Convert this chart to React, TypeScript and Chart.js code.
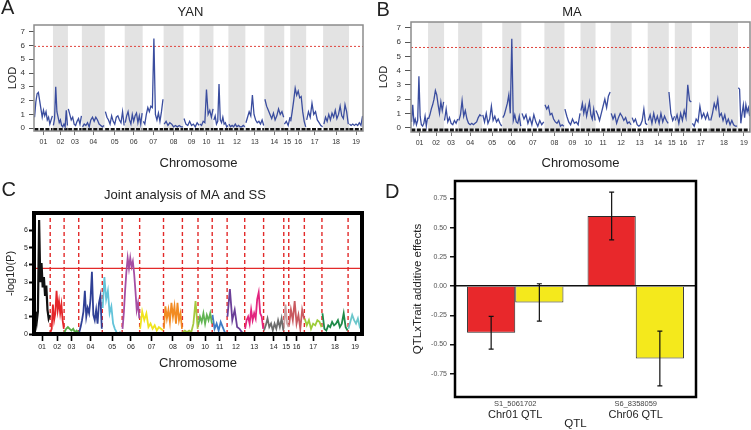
import React, { useEffect, useRef } from "react";
import { Chart, registerables } from "chart.js";

Chart.register(...registerables);

const FONT = "'Liberation Sans', Arial, Helvetica, sans-serif";

// ---------------- data ----------------
const chromLabels = ["01", "02", "03", "04", "05", "06", "07", "08", "09", "10", "11", "12", "13", "14", "15", "16", "17", "18", "19"];

// map lengths used on each panel's genome axis
const yanLengths = [19, 15, 14, 23, 20, 18, 21, 20, 16, 14, 15, 17, 19, 20, 6, 16, 17, 26, 14];
const maLengths = [17, 16, 14, 24, 20, 19, 23, 20, 16, 15, 15, 21, 16, 21, 6, 17, 18, 28, 12];
const jointLengths = [16.3, 14, 14.7, 23.7, 20, 17.6, 24, 19, 15.7, 14.3, 15, 17.7, 19, 20.3, 5, 15.7, 17.7, 26.3, 14];

const lodTicks = [0, 1, 2, 3, 4, 5, 6, 7];
const jointTicks = [0, 1, 2, 3, 4, 5, 6];
const effectTicks = [-0.75, -0.5, -0.25, 0, 0.25, 0.5, 0.75];

const yanThreshold = 5.93;
const maThreshold = 5.63;
const jointThreshold = 3.8;

// YAN LOD profile, one list per chromosome
const yanLod = [
  [0.8, 1.9, 2.5, 2.6, 2.0, 1.4, 0.8, 1.3, 0.9, 1.2, 0.6, 0.8, 0.3, 0.6, 0.9],
  [0.2, 0.7, 3.0, 1.2, 0.8, 0.4, 0.6, 0.2, 0.1, 0.3, 0.1, 1.3, 0.2],
  [1.4, 1.0, 0.6, 0.8, 0.3, 0.2, 0.5, 0.7, 0.3, 0.9],
  [0.1, 0.3, 0.2, 0.4, 0.1, 0.6, 0.8, 0.5, 0.8, 0.6, 0.3, 0.2, 0.1, 0.2],
  [1.2, 0.8, 0.6, 0.3, 0.9, 0.5, 0.3, 0.8, 0.9, 0.6, 0.4, 1.2, 0.2],
  [0.4, 0.9, 1.2, 0.6, 0.3, 1.0, 0.5, 0.9, 1.1, 0.4, 0.9, 0.3, 1.1],
  [0.5, 0.3, 1.0, 1.5, 1.2, 1.6, 1.5, 6.5, 1.0, 0.6, 1.1, 0.5, 1.2, 2.1],
  [0.3, 0.5, 0.2, 0.4, 0.3, 0.1, 0.2, 0.1, 0.2, 0.1, 0.1],
  [0.7, 0.3, 0.2, 0.5, 0.2, 0.3, 0.1, 0.4, 0.2],
  [0.3, 0.2, 0.5, 0.4, 2.8, 1.0, 1.3, 0.8, 1.4],
  [0.6, 0.9, 0.3, 0.5, 3.2, 0.6, 0.4, 0.8, 0.3, 0.4, 0.1, 0.2],
  [0.3, 0.1, 0.2, 0.1, 0.3, 0.1, 0.2, 0.1, 0.1, 0.2, 0.1],
  [0.4, 0.8, 1.2, 0.9, 2.4, 1.0, 0.6, 0.4, 0.5, 0.3, 0.6, 0.2],
  [2.1, 1.6, 1.3, 1.0, 0.7, 1.1, 0.6, 0.9, 1.4, 1.0, 1.2, 0.8],
  [0.3, 0.5, 0.2, 0.8],
  [0.5, 1.2, 2.0, 2.9, 2.4, 2.7, 2.2, 2.3, 1.2, 0.5, 0.1],
  [0.6, 1.2, 0.8, 1.8, 1.0, 1.2, 0.6, 0.4, 0.2, 0.1],
  [0.3, 0.8, 0.5, 1.0, 0.6, 1.1, 0.8, 1.3, 0.7, 1.0, 1.6, 0.9, 0.7, 1.7, 1.2, 0.3],
  [0.3, 0.2, 0.3, 0.2, 0.3, 0.2, 0.4, 0.2, 0.9],
];

// MA LOD profile, one list per chromosome
const maLod = [
  [0.4, 1.6, 0.3, 0.6, 0.2, 0.5, 3.6, 0.8, 0.2, 0.1, 0.3, 0.8, 0.1, 0.7],
  [0.6, 0.9, 1.3, 1.6, 2.0, 2.6, 2.3, 1.6, 1.0, 1.8, 1.2, 1.8],
  [0.5, 1.3, 0.4, 0.7, 0.3, 0.2, 0.5, 0.3, 0.6],
  [0.5, 0.9, 1.9, 0.8, 1.2, 0.6, 0.3, 0.2, 0.3, 0.2, 0.3, 0.4, 0.7, 0.9, 0.8],
  [0.9, 0.4, 1.0, 0.3, 0.6, 1.5, 0.5, 0.8, 0.4, 0.6, 0.3, 0.1],
  [0.7, 0.9, 1.3, 1.7, 2.3, 1.0, 6.25, 0.5, 0.9, 0.4, 0.3, 0.8, 0.1],
  [1.0, 0.6, 0.9, 0.3, 0.7, 0.2, 0.9, 0.4, 0.1, 0.5, 0.2, 0.4],
  [1.6, 1.3, 1.5, 0.9, 1.0, 0.6, 0.4, 0.3, 0.5, 0.1, 0.2, 0.1],
  [1.3, 0.8, 0.4, 0.2, 0.6, 0.3, 0.4, 0.2, 1.0],
  [1.2, 1.7, 1.0, 1.5, 0.8, 1.3, 1.8, 0.9, 0.6, 1.3, 0.5],
  [1.2, 0.9, 0.5, 1.0, 1.5, 2.0, 1.4, 2.2, 2.5],
  [1.0, 0.6, 0.9, 0.3, 0.7, 1.0, 0.8, 0.5, 0.7, 0.3, 0.4, 0.2],
  [0.7, 0.4, 0.6, 0.2, 0.1, 0.2, 0.5, 1.3, 0.3, 0.2],
  [0.5, 0.9, 0.3, 1.0, 0.4, 0.8, 0.3, 1.0, 0.4, 0.8, 0.5, 0.3],
  [2.5, 1.0, 0.5, 0.8],
  [0.5, 0.9, 0.3, 1.0, 0.5, 1.2, 0.7, 3.0, 1.9, 1.8],
  [0.3, 0.1, 0.6, 0.4, 1.5, 0.7, 1.0, 0.6, 1.0, 0.5],
  [0.5, 1.0, 1.7, 1.3, 2.0, 0.8, 1.0, 0.5, 0.9, 0.3, 0.6, 0.2, 0.5, 0.2, 0.1, 0.1],
  [2.8, 2.7, 0.3, 1.0, 1.6, 0.7, 1.6, 1.1, 1.4, 0.8],
];

// joint analysis -log10(P), one list per chromosome
const jointLogP = [
  [0.2, 1.3, 0.7, 1.3, 6.6, 3.0, 4.1, 2.7, 3.3, 2.2, 2.8, 1.4, 0.9, 1.1],
  [0.1, 0.3, 1.7, 0.8, 1.2, 2.5, 1.4, 1.9, 1.2, 1.7, 0.8, 0.3],
  [0.1, 0.3, 0.4, 0.3, 0.2, 0.3, 0.1, 0.2, 0.1],
  [0.1, 0.4, 0.8, 1.3, 2.5, 1.0, 1.5, 1.2, 2.0, 3.6, 1.1, 0.8, 1.4, 0.6, 1.8, 2.2, 0.3],
  [1.5, 3.3, 2.0, 2.5, 1.2, 1.6, 0.6, 0.3, 0.1, 0.0, 0.1, 0.0],
  [0.3, 1.2, 2.5, 3.6, 4.4, 3.8, 4.4, 3.9, 4.2, 3.5, 2.5, 1.4, 1.8, 0.9],
  [0.3, 1.3, 0.8, 1.2, 0.4, 0.6, 0.3, 0.5, 0.2, 0.4, 0.3, 0.2],
  [0.3, 1.6, 0.9, 1.4, 0.7, 1.8, 1.0, 1.6, 0.6, 1.8, 0.8, 1.2, 0.3],
  [0.1, 0.2, 0.1, 0.2, 0.1, 0.6, 1.9, 0.3],
  [0.5, 1.0, 0.7, 1.2, 0.6, 1.1, 0.8, 1.2, 0.6],
  [1.1, 0.3, 0.6, 0.2, 0.7, 0.4, 0.1, 0.0],
  [1.0, 2.6, 0.8, 1.4, 0.4, 0.3, 0.1, 0.0],
  [0.3, 0.8, 1.0, 0.6, 1.4, 0.8, 1.2, 0.9, 2.0, 2.4, 1.2, 1.0, 0.3],
  [0.2, 0.5, 0.9, 0.4, 0.6, 0.2, 0.6, 0.3, 0.8, 0.4, 0.9, 0.2],
  [0.3, 1.7, 0.6, 0.4],
  [0.5, 1.4, 0.8, 1.9, 0.6, 1.1, 0.3, 1.4, 0.9],
  [0.9, 0.5, 0.8, 0.3, 0.6, 0.5, 0.8, 0.7, 0.4],
  [1.2, 0.3, 0.2, 0.5, 0.4, 0.7, 0.5, 0.6, 0.8, 0.4, 0.6, 1.2, 0.4, 0.2],
  [0.3, 0.7, 1.1, 0.8, 0.6, 0.9, 0.4, 0.2],
];

const jointColors = [
  "#111111", "#e4262a", "#58ad46", "#2f4096", "#63c3d9", "#a54ea3", "#f0e41e", "#f28b22", "#a6c93e", "#62b552",
  "#3e7cc6", "#6b3f98", "#e3247f", "#6d6d6d", "#c9a2a4", "#c95a60", "#9dcc3a", "#1f8a48", "#6cc7cb",
];

// panel D
const qtlMarkers = ["S1_5061702", "S6_8358059"];
const qtlNames = ["Chr01 QTL", "Chr06 QTL"];
const redEffects = [-0.4, 0.6];
const redErrors = [0.14, 0.205];
const yellowEffects = [-0.14, -0.62];
const yellowErrors = [0.16, 0.235];

// ---------------- helpers ----------------
const sum = (a: number[]) => a.reduce((s, v) => s + v, 0);
const starts = (lengths: number[]) => lengths.map((_, i) => sum(lengths.slice(0, i)));
const centers = (lengths: number[]) => starts(lengths).map((s, i) => s + lengths[i] / 2);

function chromPoints(start: number, len: number, vals: number[], inset: number) {
  return vals.map((v, j) => ({ x: start + len * (inset + (1 - 2 * inset) * (j / (vals.length - 1))), y: v }));
}

function tracePoints(lengths: number[], values: number[][], inset: number) {
  const st = starts(lengths);
  const pts: any[] = [];
  values.forEach((vals, i) => {
    pts.push(...chromPoints(st[i], lengths[i], vals, inset));
    pts.push({ x: st[i] + lengths[i], y: null });
  });
  return pts;
}

function rugPoints(lengths: number[], y: number) {
  const st = starts(lengths);
  const pts: any[] = [];
  lengths.forEach((len, i) => {
    pts.push({ x: st[i] + len * 0.02, y }, { x: st[i] + len * 0.98, y }, { x: st[i] + len, y: null });
  });
  return pts;
}

const bandsPlugin = {
  id: "bands",
  beforeDatasetsDraw(chart: any, _args: any, opts: any) {
    if (!opts || !opts.lengths) return;
    const { ctx, chartArea, scales } = chart;
    const x = scales.x;
    const st = starts(opts.lengths);
    ctx.save();
    ctx.fillStyle = opts.color;
    opts.lengths.forEach((len: number, i: number) => {
      if (i % 2 === 1) {
        const x0 = x.getPixelForValue(st[i]);
        const x1 = x.getPixelForValue(st[i] + len);
        ctx.fillRect(x0, chartArea.top, x1 - x0, chartArea.bottom - chartArea.top);
      }
    });
    ctx.restore();
  },
};

const framePlugin = {
  id: "frame",
  afterDraw(chart: any, _args: any, opts: any) {
    if (!opts || !opts.color) return;
    const { ctx, chartArea } = chart;
    ctx.save();
    ctx.strokeStyle = opts.color;
    ctx.lineWidth = opts.width;
    ctx.strokeRect(chartArea.left, chartArea.top, chartArea.right - chartArea.left, chartArea.bottom - chartArea.top);
    ctx.restore();
  },
};

const errorBarPlugin = {
  id: "errorBars",
  afterDatasetsDraw(chart: any) {
    const { ctx, scales } = chart;
    const y = scales.y;
    ctx.save();
    ctx.strokeStyle = "#111";
    ctx.lineWidth = 1.2;
    chart.data.datasets.forEach((ds: any, i: number) => {
      if (!ds.errors) return;
      const meta = chart.getDatasetMeta(i);
      meta.data.forEach((el: any, j: number) => {
        const v = ds.data[j];
        const e = ds.errors[j];
        const yHi = y.getPixelForValue(v + e);
        const yLo = y.getPixelForValue(v - e);
        ctx.beginPath();
        ctx.moveTo(el.x, yHi);
        ctx.lineTo(el.x, yLo);
        ctx.moveTo(el.x - 2.5, yHi);
        ctx.lineTo(el.x + 2.5, yHi);
        ctx.moveTo(el.x - 2.5, yLo);
        ctx.lineTo(el.x + 2.5, yLo);
        ctx.stroke();
      });
    });
    ctx.restore();
  },
};

// marker names printed in small type just under the axis of panel D
const markerLabelPlugin = {
  id: "markerLabels",
  afterDraw(chart: any, _args: any, opts: any) {
    const { ctx, scales } = chart;
    const x = scales.x;
    ctx.save();
    ctx.font = `7.5px ${FONT}`;
    ctx.fillStyle = "#444";
    ctx.textAlign = "center";
    ctx.textBaseline = "middle";
    (chart.data.labels as string[]).forEach((lab, i) => {
      ctx.fillText(lab, x.getPixelForTick(i), x.top + (opts.offset || 7));
    });
    ctx.restore();
  },
};

// ---------------- configs ----------------
function lodConfig(p: any) {
  const total = sum(p.lengths);
  const ctrs = centers(p.lengths);
  return {
    type: "line",
    data: {
      datasets: [
        { data: tracePoints(p.lengths, p.values, 0.03), borderColor: "#3a4d9f", borderWidth: 1.3, pointRadius: 0, order: 0 },
        { data: [{ x: 0, y: p.threshold }, { x: total, y: p.threshold }], borderColor: "#e0453e", borderWidth: 1, borderDash: [2, 2], pointRadius: 0, order: 1 },
        { data: rugPoints(p.lengths, p.rugY), borderColor: "#111", borderWidth: 4, borderDash: [4, 1.5], pointRadius: 0, order: 2 },
      ],
    },
    options: {
      animation: false,
      responsive: false,
      events: [],
      layout: { padding: { left: p.padLeft, top: 0, right: p.padRight, bottom: 0 } },
      plugins: {
        legend: { display: false },
        tooltip: { enabled: false },
        title: { display: true, text: p.title, font: { family: FONT, size: 13, weight: "normal" }, color: "#222", padding: p.titlePad },
        bands: { lengths: p.lengths, color: "#e3e3e3" },
        frame: { color: "#8c8c8c", width: 1.5 },
      },
      scales: {
        x: {
          type: "linear",
          min: 0,
          max: total,
          afterBuildTicks: (s: any) => { s.ticks = ctrs.map((v) => ({ value: v })); },
          afterFit: (s: any) => { s.height = p.xHeight; },
          ticks: { autoSkip: false, maxRotation: 0, font: { family: FONT, size: 7 }, color: "#333", padding: 3, callback: (_v: any, i: number) => chromLabels[i] },
          grid: { drawOnChartArea: false, drawTicks: true, tickLength: 4, color: "#777" },
          border: { display: false },
          title: { display: true, text: "Chromosome", font: { family: FONT, size: 13 }, color: "#222", padding: { top: 0, bottom: 7 } },
        },
        y: {
          type: "linear",
          min: p.yMin,
          max: p.yMax,
          afterBuildTicks: (s: any) => { s.ticks = lodTicks.map((v) => ({ value: v })); },
          afterFit: (s: any) => { s.width = p.yWidth; },
          ticks: { font: { family: FONT, size: 8 }, color: "#333", padding: 4 },
          grid: { drawOnChartArea: false, tickLength: p.tickLen, color: "#555" },
          border: { display: false },
          title: { display: true, text: "LOD", font: { family: FONT, size: 11 }, color: "#222", padding: { top: p.yTitlePad, bottom: 0 } },
        },
      },
    },
    plugins: [bandsPlugin, framePlugin],
  };
}

function jointConfig() {
  const total = sum(jointLengths);
  const st = starts(jointLengths);
  const ctrs = centers(jointLengths);
  const boundaryPts: any[] = [];
  st.slice(1).forEach((b) => {
    boundaryPts.push({ x: b, y: 0 }, { x: b, y: 7 }, { x: b, y: null });
  });
  const traces = jointLogP.map((vals, i) => ({
    data: chromPoints(st[i], jointLengths[i], vals, 0.02),
    borderColor: jointColors[i],
    borderWidth: i === 0 ? 2.2 : 1.8,
    pointRadius: 0,
    order: 0,
  }));
  return {
    type: "line",
    data: {
      datasets: [
        ...traces,
        { data: boundaryPts, borderColor: "#e22a2a", borderWidth: 1.4, borderDash: [4, 3], pointRadius: 0, order: 1 },
        { data: [{ x: 0, y: jointThreshold }, { x: total, y: jointThreshold }], borderColor: "#e22a2a", borderWidth: 1.2, pointRadius: 0, order: 1 },
      ],
    },
    options: {
      animation: false,
      responsive: false,
      events: [],
      layout: { padding: { left: 8, top: 0, right: 8, bottom: 0 } },
      plugins: {
        legend: { display: false },
        tooltip: { enabled: false },
        title: { display: true, text: "Joint analysis of MA and SS", font: { family: FONT, size: 13, weight: "normal" }, color: "#222", padding: { top: 9.2, bottom: 10.2 } },
        frame: { color: "#000", width: 4 },
      },
      scales: {
        x: {
          type: "linear",
          min: 0,
          max: total,
          afterBuildTicks: (s: any) => { s.ticks = ctrs.map((v) => ({ value: v })); },
          afterFit: (s: any) => { s.height = 44; },
          ticks: { autoSkip: false, maxRotation: 0, font: { family: FONT, size: 7 }, color: "#222", padding: 2, callback: (_v: any, i: number) => chromLabels[i] },
          grid: { drawOnChartArea: false, drawTicks: true, tickLength: 7, color: "#000", tickWidth: 1.6 },
          border: { display: false },
          title: { display: true, text: "Chromosome", font: { family: FONT, size: 13 }, color: "#222", padding: { top: 0, bottom: 7 } },
        },
        y: {
          type: "linear",
          min: 0,
          max: 7,
          afterBuildTicks: (s: any) => { s.ticks = jointTicks.map((v) => ({ value: v })); },
          afterFit: (s: any) => { s.width = 26; },
          ticks: { font: { family: FONT, size: 7 }, color: "#222", padding: 1 },
          grid: { drawOnChartArea: false, tickLength: 5, color: "#000", tickWidth: 2 },
          border: { display: false },
          title: { display: true, text: "-log10(P)", font: { family: FONT, size: 11 }, color: "#222", padding: { top: -4.1, bottom: 0 } },
        },
      },
    },
    plugins: [framePlugin],
  };
}

function effectConfig() {
  return {
    type: "bar",
    data: {
      labels: qtlMarkers,
      datasets: [
        { data: redEffects, errors: redErrors, backgroundColor: "#e8282b", borderColor: "#2a2a2a", borderWidth: 1 },
        { data: yellowEffects, errors: yellowErrors, backgroundColor: "#f4e91c", borderColor: "#2a2a2a", borderWidth: 1 },
      ],
    },
    options: {
      animation: false,
      responsive: false,
      events: [],
      datasets: { bar: { barPercentage: 1, categoryPercentage: 0.8 } },
      layout: { padding: { left: 0, top: 11, right: 55, bottom: 0 } },
      plugins: {
        legend: { display: false },
        tooltip: { enabled: false },
        title: { display: false },
        frame: { color: "#000", width: 2.5 },
        markerLabels: { offset: 7 },
      },
      scales: {
        x: {
          type: "category",
          position: "bottom",
          afterFit: (s: any) => { s.height = 33; },
          grid: { display: false, drawTicks: false },
          border: { display: false },
          ticks: { font: { family: FONT, size: 11 }, color: "#222", padding: 11.4, maxRotation: 0, callback: (_v: any, i: number) => qtlNames[i] },
          title: { display: true, text: "QTL", font: { family: FONT, size: 11.5, lineHeight: 1 }, color: "#222", padding: 0 },
        },
        y: {
          type: "linear",
          min: -0.95,
          max: 0.9,
          afterBuildTicks: (s: any) => { s.ticks = effectTicks.map((v) => ({ value: v })); },
          afterFit: (s: any) => { s.width = 80; },
          ticks: { font: { family: FONT, size: 7 }, color: "#555", padding: 3, callback: (v: any) => Number(v).toFixed(2) },
          grid: {
            color: (c: any) => (c.tick && c.tick.value === 0 ? "#111" : "rgba(0,0,0,0)"),
            lineWidth: 1.5,
            tickColor: "#111",
            tickLength: 5,
            tickWidth: 1.5,
          },
          border: { display: false },
          title: { display: true, text: "QTLxTrait additive effects", font: { family: FONT, size: 11.5 }, color: "#222", padding: { top: 36, bottom: 0 } },
        },
      },
    },
    plugins: [framePlugin, errorBarPlugin, markerLabelPlugin],
  };
}

// ---------------- components ----------------
function ChartCanvas({ make, left, top, width, height }: any) {
  const ref = useRef<HTMLCanvasElement>(null);
  useEffect(() => {
    const chart = new Chart(ref.current as HTMLCanvasElement, make());
    return () => chart.destroy();
  }, []);
  return <canvas ref={ref} width={width} height={height} style={{ position: "absolute", left, top, width, height }} />;
}

const letterStyle = (left: number, top: number): React.CSSProperties => ({
  position: "absolute",
  left,
  top,
  fontFamily: FONT,
  fontSize: 20,
  lineHeight: "20px",
  color: "#222",
});

export default function App() {
  return (
    <div style={{ position: "fixed", left: 0, top: 0, width: 751, height: 430, overflow: "hidden", background: "#fff" }}>
      <ChartCanvas
        left={0}
        top={0}
        width={389}
        height={178}
        make={() =>
          lodConfig({
            title: "YAN", lengths: yanLengths, values: yanLod, threshold: yanThreshold,
            yMin: -0.2, yMax: 7.48, rugY: -0.12, padLeft: 18, padRight: 26, yWidth: 16, xHeight: 47,
            titlePad: { top: 5, bottom: 4.4 }, yTitlePad: -11.6, tickLen: 5,
          })
        }
      />
      <ChartCanvas
        left={376}
        top={0}
        width={392}
        height={178}
        make={() =>
          lodConfig({
            title: "MA", lengths: maLengths, values: maLod, threshold: maThreshold,
            yMin: -0.31, yMax: 7.42, rugY: -0.2, padLeft: 18, padRight: 18, yWidth: 17, xHeight: 46,
            titlePad: { top: 4.5, bottom: 1.9 }, yTitlePad: -16.4, tickLen: 6,
          })
        }
      />
      <ChartCanvas left={0} top={178} width={370} height={200} make={jointConfig} />
      <ChartCanvas left={375} top={170} width={376} height={260} make={effectConfig} />
      <div style={letterStyle(1, -2.6)}>A</div>
      <div style={letterStyle(376.5, -1)}>B</div>
      <div style={letterStyle(1.5, 179.4)}>C</div>
      <div style={letterStyle(385, 181.4)}>D</div>
    </div>
  );
}
